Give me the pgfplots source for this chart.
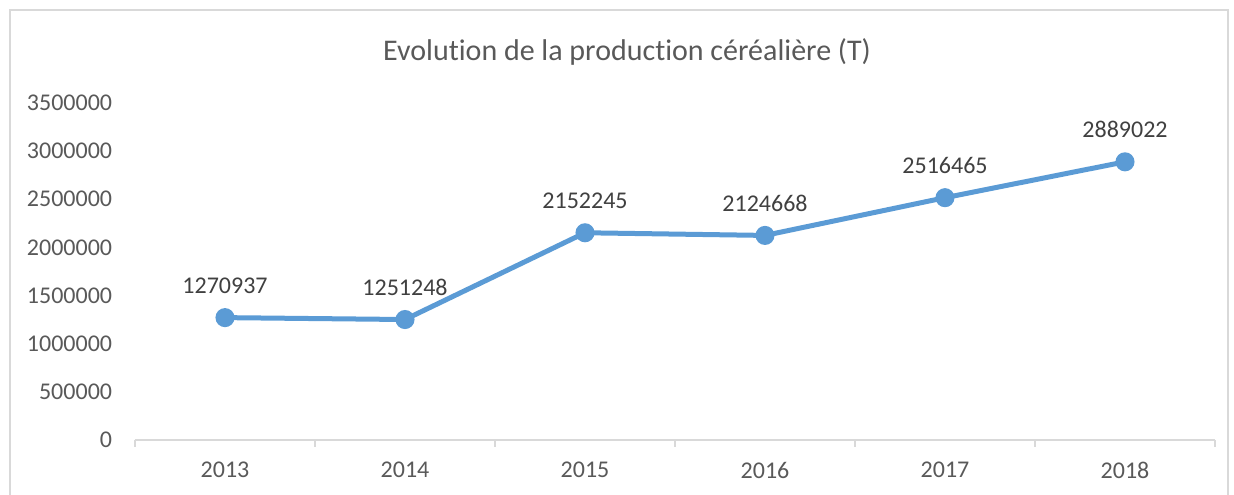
\documentclass[border=0pt]{standalone}
\usepackage{fontspec}
\setmainfont{Carlito}[Ligatures=NoCommon]
\usepackage{pgfplots}
\pgfplotsset{compat=1.18}
\definecolor{serie}{RGB}{91,155,213}
\definecolor{txt}{RGB}{89,89,89}
\definecolor{lbl}{RGB}{64,64,64}
\definecolor{axgray}{RGB}{217,217,217}
\begin{document}
\begin{tikzpicture}
\clip (0,0) rectangle (925.5pt,371.25pt);
\draw[axgray, line width=1.1pt] (7.5pt,-10pt) rectangle (921pt,363.75pt);
\node[txt, font=\fontsize{22.5}{26}\selectfont] at (470.25pt,332.25pt) {Evolution de la production céréalière (T)};
\begin{axis}[
  at={(101.25pt,41.25pt)}, anchor=south west,
  scale only axis, width=810pt, height=252.75pt,
  xmin=-0.5, xmax=5.5, ymin=0, ymax=3500000,
  axis x line*=bottom, axis y line*=left,
  x axis line style={axgray, line width=1.1pt, -},
  y axis line style={draw=none},
  xtick={0,...,5},
  xticklabels={2013,2014,2015,2016,2017,2018},
  minor xtick={-0.5,0.5,...,5.5},
  major tick length=0pt, minor tick length=5.25pt, tick align=outside,
  minor tick style={axgray, line width=1.1pt},
  major tick style={draw=none},
  ytick={0,500000,...,3500000},
  scaled y ticks=false,
  /pgf/number format/.cd, fixed, 1000 sep={}, assume math mode=true, /pgfplots/.cd,
  ticklabel style={txt, font=\fontsize{18}{20}\selectfont, inner sep=0pt},
  xticklabel style={anchor=north, yshift=-16.5pt},
  yticklabel style={anchor=east, xshift=-17pt},
  point meta=explicit symbolic,
  nodes near coords,
  every node near coord/.append style={lbl, font=\fontsize{18}{20}\selectfont, anchor=base, inner sep=0pt, yshift=18pt},
  clip=false,
]
\addplot[serie, line width=3.75pt, mark=*, mark size=5.25pt, mark options={fill=serie, draw=none}]
  coordinates {
  (0,1270937) [1270937]
  (1,1251248) [1251248]
  (2,2152245) [2152245]
  (3,2124668) [2124668]
  (4,2516465) [2516465]
  (5,2889022) [2889022]
  };
\end{axis}
\end{tikzpicture}
\end{document}
